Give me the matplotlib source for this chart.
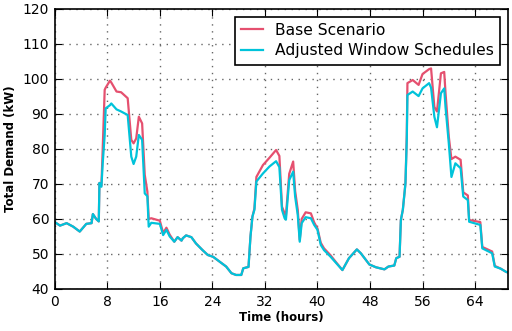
import numpy as np
import matplotlib
matplotlib.use("Agg")
import matplotlib.pyplot as plt

# time (hours) and demand (kW)
hours = [0, 0.8, 1.8, 2.8, 3.8, 4.8, 5.6, 5.8, 6.3, 6.7, 6.8, 7.1, 7.3, 7.6, 7.75,
         8.4, 8.6, 9.4, 10.1, 11.1, 11.65, 12.0, 12.4, 12.8, 13.3, 13.7, 14.1, 14.3,
         14.7, 16.0, 16.5, 17.0, 17.5, 18.2, 18.7, 19.3, 19.5, 20.0, 20.8, 21.5,
         22.5, 23.3, 24.1, 25.1, 26.1, 26.9, 27.6, 28.4, 28.7, 29.5, 29.8, 30.1,
         30.4, 30.7, 31.7, 32.7, 33.7, 34.2, 34.6, 35.0, 35.2, 35.7, 36.3, 36.6,
         37.0, 37.3, 37.6, 38.2, 39.0, 39.5, 40.0, 40.5, 41.0, 42.0, 42.8, 43.8,
         44.8, 46.0, 46.6, 47.9, 48.9, 50.2, 50.8, 51.7, 52.0, 52.5, 52.7, 53.0,
         53.4, 53.6, 53.7, 54.5, 55.4, 56.0, 57.0, 57.3, 57.8, 58.2, 58.8, 59.3,
         59.5, 60.0, 60.4, 61.0, 61.8, 62.2, 62.9, 63.1, 64.8, 65.1, 66.6, 67.0,
         67.9, 68.7, 69.0]

adjusted = [59.1, 58.1, 58.8, 57.8, 56.4, 58.6, 58.8, 61.4, 60.0, 59.3, 70.3, 69.2,
            75.9, 84.0, 91.6, 92.5, 93.0, 91.3, 90.7, 89.7, 77.8, 75.7, 77.8, 84.0,
            82.6, 67.3, 66.5, 57.8, 58.9, 58.6, 55.4, 56.9, 55.0, 53.5, 54.8, 53.8,
            54.5, 55.3, 54.8, 53.0, 51.1, 49.7, 49.2, 47.8, 46.4, 44.5, 44.0, 44.0,
            45.9, 46.3, 55.0, 60.7, 62.6, 70.7, 73.0, 75.0, 76.5, 74.8, 62.6, 60.2,
            59.8, 71.1, 73.5, 66.4, 61.1, 53.5, 58.8, 60.5, 60.2, 58.3, 56.9, 52.6,
            51.1, 49.2, 47.5, 45.4, 48.8, 51.3, 50.2, 47.0, 46.2, 45.6, 46.4, 46.7,
            48.8, 49.2, 59.7, 62.6, 70.2, 82.6, 95.4, 96.4, 95.1, 97.3, 98.8, 97.5,
            89.2, 86.2, 95.9, 97.3, 92.0, 81.6, 72.0, 75.9, 74.5, 66.4, 65.4, 59.2,
            58.3, 51.6, 50.2, 46.4, 45.8, 44.9, 44.7]

base = [59.1, 58.1, 58.8, 57.8, 56.4, 58.6, 58.8, 61.4, 60.0, 59.3, 70.3, 69.5,
        80.2, 96.9, 97.5, 99.5, 99.0, 96.4, 96.2, 94.5, 82.6, 81.6, 83.0, 89.2,
        87.3, 72.6, 67.8, 60.0, 60.2, 59.5, 56.0, 57.5, 55.5, 53.5, 54.8, 53.8,
        54.5, 55.3, 54.8, 53.0, 51.1, 49.7, 49.2, 47.8, 46.4, 44.5, 44.0, 44.0,
        45.9, 46.3, 55.0, 60.7, 63.0, 72.0, 75.4, 77.5, 79.7, 78.0, 63.5, 61.6,
        61.0, 72.9, 76.4, 68.0, 62.6, 54.0, 60.0, 61.9, 61.6, 59.0, 57.3, 53.2,
        51.6, 49.6, 47.7, 45.4, 48.8, 51.3, 50.2, 47.0, 46.2, 45.6, 46.4, 46.7,
        48.8, 49.2, 59.7, 62.6, 70.2, 84.0, 98.8, 99.7, 98.3, 101.4, 102.8, 103.0,
        92.0, 90.7, 101.6, 102.0, 96.0, 83.5, 77.1, 77.8, 76.9, 67.6, 66.7, 59.7,
        59.1, 52.0, 50.7, 46.6, 45.8, 44.9, 44.7]

fig = plt.figure(figsize=(5.12, 3.31), dpi=100)
ax = fig.add_axes([0.107, 0.127, 0.885, 0.846])

ax.plot(hours, base, color="#e5506f", lw=1.6, label="Base Scenario")
ax.plot(hours, adjusted, color="#00c3da", lw=1.6, label="Adjusted Window Schedules")

ax.set_xlim(0, 69)
ax.set_ylim(40, 120)
ax.set_xticks(np.arange(0, 69, 8))
ax.set_yticks(np.arange(40, 121, 10))
ax.grid(True, linestyle=(0, (1, 4)), color="#666666", lw=1.0)
ax.tick_params(direction="in", top=True, right=True, labelsize=10, length=5, pad=4)
for s in ax.spines.values():
    s.set_linewidth(1.2)

ax.set_xlabel("Time (hours)", fontsize=8.5, fontweight="bold", labelpad=2)
ax.set_ylabel("Total Demand (kW)", fontsize=8.5, fontweight="bold", labelpad=4)

leg = ax.legend(loc="upper right", fontsize=11.2, fancybox=False, framealpha=1,
                edgecolor="black", handlelength=1.4, handletextpad=0.8,
                borderaxespad=0.5, labelspacing=0.35)
leg.get_frame().set_linewidth(1.2)

fig.savefig("out.png", dpi=100)
